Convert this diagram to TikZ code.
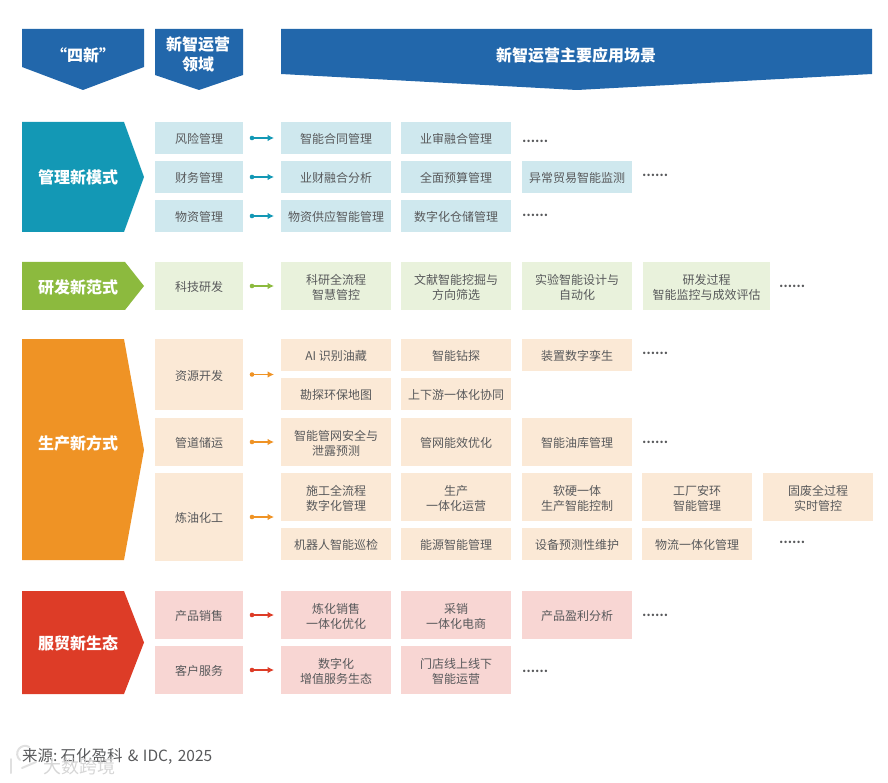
\documentclass[tikz,border=0pt]{standalone}
\usepackage{fontspec}
\setmainfont{Noto Sans CJK SC}
\usetikzlibrary{arrows.meta}
\definecolor{cblue}{HTML}{2267AB}
\definecolor{cteal}{HTML}{1398B5}
\definecolor{cgreen}{HTML}{8CBA3E}
\definecolor{corange}{HTML}{EF9325}
\definecolor{cred}{HTML}{DD3C27}
\definecolor{lteal}{HTML}{CFE8EE}
\definecolor{lgreen}{HTML}{E9F2DC}
\definecolor{lorange}{HTML}{FBE9D6}
\definecolor{lred}{HTML}{F8D6D3}
\definecolor{txt}{HTML}{58595B}
\tikzset{
  boxtext/.style={inner sep=0pt,outer sep=0pt,align=center,text=txt,font=\fontsize{12}{15}\selectfont},
  headtext/.style={inner sep=0pt,align=center,text=white,font=\fontsize{16}{20}\selectfont\bfseries},
  more/.style={inner sep=0pt,anchor=west,text=txt,font=\fontsize{11.5}{14}\selectfont\bfseries},
  link/.style={line width=1.1pt,shorten <=8pt,shorten >=7pt,-{Latex[length=6.5pt,width=6.5pt]}},
}
% name, x0, y0, x1, y1, fill, text
\newcommand{\bx}[7]{\node[inner sep=0pt,outer sep=0pt,fill=#6,minimum width=#4pt-#2pt,minimum height=#5pt-#3pt,label={[boxtext,yshift=-1pt]center:{#7}}] (#1) at ({(#2+#4)/2},{(#3+#5)/2}) {};}
% from node, to node, colour
\newcommand{\lnk}[3]{\draw[link,#3] (#1.east) -- (#1.east -| #2.west); \fill[#3] ([xshift=9pt]#1.east) circle[radius=2.3pt];}
\begin{document}
\begin{tikzpicture}[x=1pt,y=-1pt]
\useasboundingbox (0,0) rectangle (888,783);
% headers
\fill[cblue] (22,29)--(144,29)--(144,67)--(83,90)--(22,67)--cycle;
\node[headtext] (h1) at (83,55) {“四新”};
\fill[cblue] (155,29)--(243,29)--(243,75)--(199,90)--(155,75)--cycle;
\node[headtext] (h2) at (198,54) {新智运营\\领域};
\fill[cblue] (281,29)--(872,29)--(872,74)--(577,90)--(281,74)--cycle;
\node[headtext] (h3) at (576,55) {新智运营主要应用场景};
% chevrons
\fill[cteal] (22,122)--(124,122)--(144,177)--(124,232)--(22,232)--cycle;
\node[headtext] (c1) at (78,177) {管理新模式};
\fill[cgreen] (22,262)--(125,262)--(144,286)--(125,310)--(22,310)--cycle;
\node[headtext] (c2) at (78,287) {研发新范式};
\fill[corange] (22,339)--(124,339)--(144,450)--(124,560)--(22,560)--cycle;
\node[headtext] (c3) at (78,443) {生产新方式};
\fill[cred] (22,591)--(124,591)--(144,642.5)--(124,694)--(22,694)--cycle;
\node[headtext] (c4) at (78,643) {服贸新生态};
% management
\bx{a1}{155}{122}{243}{154}{lteal}{风险管理}
\bx{a2}{155}{161}{243}{193}{lteal}{财务管理}
\bx{a3}{155}{200}{243}{232}{lteal}{物资管理}
\bx{a11}{281}{122}{391}{154}{lteal}{智能合同管理}
\bx{a12}{401}{122}{511}{154}{lteal}{业审融合管理}
\bx{a21}{281}{161}{391}{193}{lteal}{业财融合分析}
\bx{a22}{401}{161}{511}{193}{lteal}{全面预算管理}
\bx{a23}{522}{161}{632}{193}{lteal}{异常贸易智能监测}
\bx{a31}{281}{200}{391}{232}{lteal}{物资供应智能管理}
\bx{a32}{401}{200}{511}{232}{lteal}{数字化仓储管理}
\node[more] (m1) at (522,141) {……};
\node[more] (m2) at (642,175) {……};
\node[more] (m3) at (522,215) {……};
% research
\bx{b1}{155}{262}{243}{310}{lgreen}{科技研发}
\bx{b11}{281}{262}{391}{310}{lgreen}{科研全流程\\智慧管控}
\bx{b12}{401}{262}{511}{310}{lgreen}{文献智能挖掘与\\方向筛选}
\bx{b13}{522}{262}{632}{310}{lgreen}{实验智能设计与\\自动化}
\bx{b14}{643}{262}{770}{310}{lgreen}{研发过程\\智能监控与成效评估}
\node[more] (m4) at (779,286) {……};
% production
\bx{c1l}{155}{339}{243}{410}{lorange}{资源开发}
\bx{c2l}{155}{418}{243}{466}{lorange}{管道储运}
\bx{c3l}{155}{473}{243}{561}{lorange}{炼油化工}
\bx{c11}{281}{339}{391}{371}{lorange}{AI 识别油藏}
\bx{c12}{401}{339}{511}{371}{lorange}{智能钻探}
\bx{c13}{522}{339}{632}{371}{lorange}{装置数字孪生}
\bx{c14}{281}{378}{391}{410}{lorange}{勘探环保地图}
\bx{c15}{401}{378}{511}{410}{lorange}{上下游一体化协同}
\bx{c21}{281}{418}{391}{466}{lorange}{智能管网安全与\\泄露预测}
\bx{c22}{401}{418}{511}{466}{lorange}{管网能效优化}
\bx{c23}{522}{418}{632}{466}{lorange}{智能油库管理}
\bx{c31}{281}{473}{391}{521}{lorange}{施工全流程\\数字化管理}
\bx{c32}{401}{473}{511}{521}{lorange}{生产\\一体化运营}
\bx{c33}{522}{473}{632}{521}{lorange}{软硬一体\\生产智能控制}
\bx{c34}{642}{473}{752}{521}{lorange}{工厂安环\\智能管理}
\bx{c35}{763}{473}{873}{521}{lorange}{固废全过程\\实时管控}
\bx{c41}{281}{528}{391}{560}{lorange}{机器人智能巡检}
\bx{c42}{401}{528}{511}{560}{lorange}{能源智能管理}
\bx{c43}{522}{528}{632}{560}{lorange}{设备预测性维护}
\bx{c44}{642}{528}{752}{560}{lorange}{物流一体化管理}
\node[more] (m5) at (642,353) {……};
\node[more] (m6) at (642,442) {……};
\node[more] (m7) at (779,542) {……};
% services
\bx{d1}{155}{591}{243}{639}{lred}{产品销售}
\bx{d2}{155}{646}{243}{694}{lred}{客户服务}
\bx{d11}{281}{591}{391}{639}{lred}{炼化销售\\一体化优化}
\bx{d12}{401}{591}{511}{639}{lred}{采销\\一体化电商}
\bx{d13}{522}{591}{632}{639}{lred}{产品盈利分析}
\bx{d21}{281}{646}{391}{694}{lred}{数字化\\增值服务生态}
\bx{d22}{401}{646}{511}{694}{lred}{门店线上线下\\智能运营}
\node[more] (m8) at (642,615) {……};
\node[more] (m9) at (522,671) {……};
% connectors
\lnk{a1}{a11}{cteal}
\lnk{a2}{a21}{cteal}
\lnk{a3}{a31}{cteal}
\lnk{b1}{b11}{cgreen}
\lnk{c1l}{c11}{corange}
\lnk{c2l}{c21}{corange}
\lnk{c3l}{c31}{corange}
\lnk{d1}{d11}{cred}
\lnk{d2}{d21}{cred}
% source
\node[inner sep=0pt,anchor=west,text=txt,font=\fontsize{15.5}{17}\selectfont] (src) at (22,756.5) {来源:\hspace{3pt}石化盈科\hspace{2pt} \& \hspace{1pt}IDC,\hspace{2pt} 2025};
% watermark
\draw[black!12,line width=2pt,line cap=round] (20,760) arc[start angle=130,end angle=300,radius=8];
\draw[black!12,line width=2pt,line cap=round] (11,759) -- (11,773);
\draw[black!12,line width=2pt,line cap=round] (22,768) -- (36,762);
\node[inner sep=0pt,anchor=west,text=black!16,font=\fontsize{18}{20}\selectfont] (wm) at (43,767) {大数跨境};
\end{tikzpicture}
\end{document}
